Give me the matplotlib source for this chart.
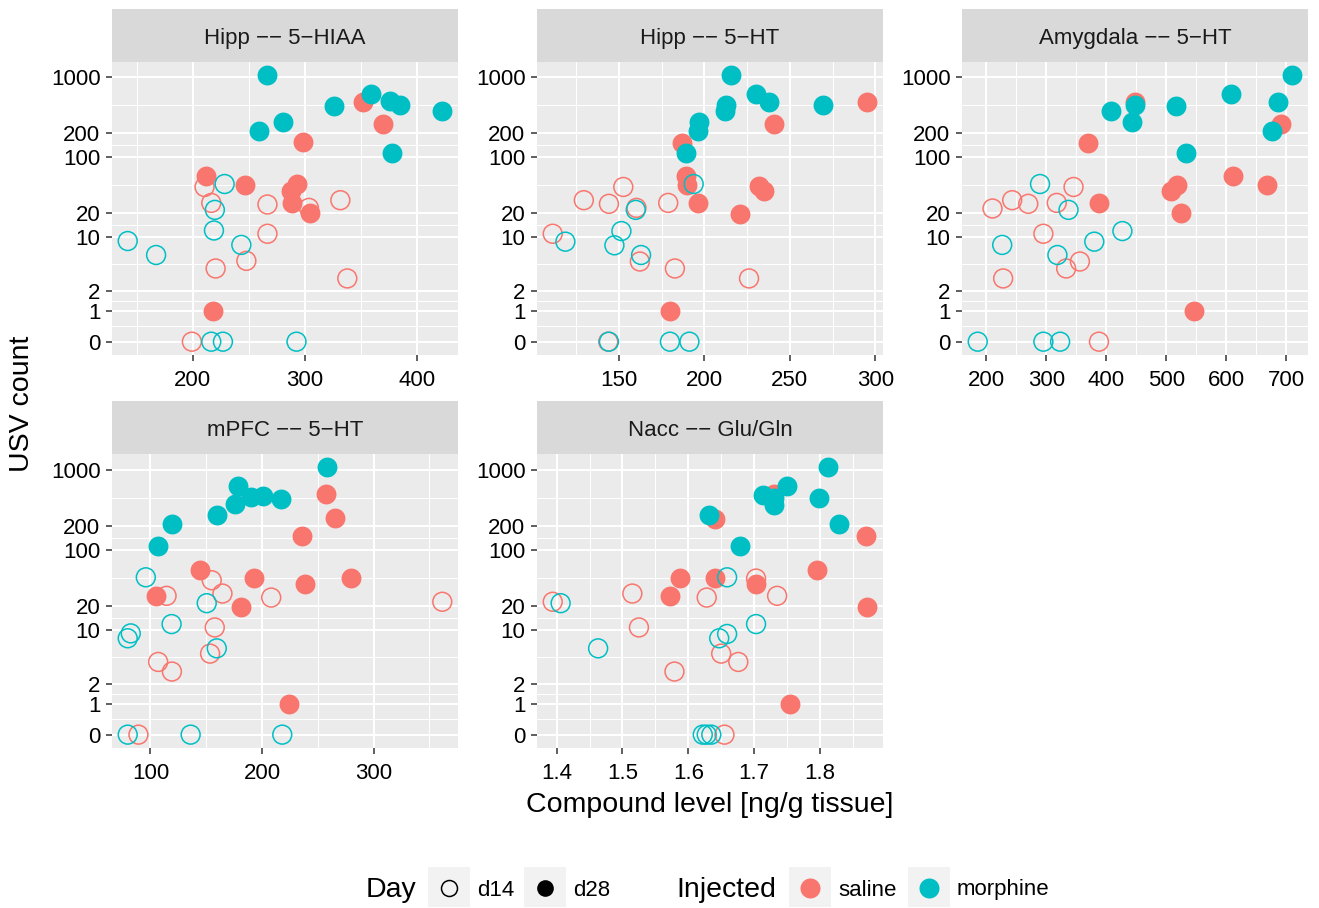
import numpy as np
import matplotlib
matplotlib.use("Agg")
import matplotlib.pyplot as plt
from matplotlib.ticker import AutoMinorLocator, FixedLocator, NullFormatter
from matplotlib.patches import Rectangle

plt.rcParams['font.family'] = ['Liberation Sans', 'DejaVu Sans']

# ---------------- data ----------------
panel_titles = ["Hipp \u2212\u2212 5\u2212HIAA", "Hipp \u2212\u2212 5\u2212HT",
                "Amygdala \u2212\u2212 5\u2212HT", "mPFC \u2212\u2212 5\u2212HT",
                "Nacc \u2212\u2212 Glu/Gln"]

# group labels, same order of animals in every panel
injected = (["morphine"] * 9 + ["saline"] * 10 + ["saline"] * 10 + ["morphine"] * 9)
day = (["d28"] * 9 + ["d28"] * 10 + ["d14"] * 10 + ["d14"] * 9)

hipp_5hiaa_x = [266.2, 358.9, 376.2, 384.3, 325.8, 422.4, 280.5, 258.7, 377.7,
                352.1, 369.1, 297.8, 211.6, 246.2, 292.7, 287.4, 288.8, 304.1, 217.9,
                210.4, 216.4, 266.5, 303.5, 331.5, 266.5, 220.3, 247.7, 337.7, 199.1,
                228.3, 219.6, 218.8, 141.9, 167.2, 243.2, 216.4, 226.8, 292.4]
hipp_5hiaa_usv = [1058, 626, 503, 457, 440, 382, 279, 213, 112,
                  493, 258, 154, 57.9, 44.8, 46.1, 37.7, 27.0, 20.3, 1,
                  42.7, 27.0, 25.8, 23.4, 29.2, 11.1, 4.04, 5.06, 3.0, 0,
                  46.5, 22.1, 12.2, 9.0, 6.0, 8.04, 0, 0, 0]

hipp_5ht_x = [215.3, 230.4, 237.8, 212.9, 212.0, 269.4, 196.9, 196.1, 189.0,
              295.3, 241.0, 186.9, 189.2, 189.8, 231.8, 235.1, 196.5, 220.8, 179.6,
              152.5, 129.4, 144.1, 178.8, 160.2, 111.2, 162.2, 182.7, 226.1, 143.7,
              193.7, 159.8, 151.4, 118.6, 147.3, 162.9, 144.1, 179.8, 191.2]
hipp_5ht_usv = [1058, 626, 493, 449, 378, 449, 279, 213, 112,
                493, 258, 153, 57.9, 44.8, 44.4, 37.7, 27.0, 19.9, 1,
                42.7, 29.2, 26.3, 27.0, 23.4, 11.1, 4.96, 4.04, 3.0, 0,
                46.5, 22.1, 12.0, 8.84, 7.95, 6.0, 0, 0, 0]

amyg_5ht_x = [710.1, 607.3, 686.6, 447.5, 516.2, 408.4, 443.6, 677.1, 533.5,
              447.5, 691.1, 368.7, 611.7, 668.2, 517.3, 508.4, 387.2, 524.6, 545.8,
              345.3, 243.0, 269.8, 317.3, 210.1, 295.0, 355.9, 333.0, 227.9, 387.7,
              289.4, 336.9, 426.8, 379.9, 226.3, 318.4, 185.5, 295.0, 322.9]
amyg_5ht_usv = [1058, 626, 493, 449, 440, 382, 279, 213, 112,
                493, 258, 153, 57.9, 44.8, 44.8, 37.7, 27.0, 20.3, 1,
                42.7, 29.2, 26.3, 27.0, 23.0, 11.1, 4.96, 4.04, 3.0, 0,
                46.5, 22.1, 12.0, 8.84, 8.04, 6.0, 0, 0, 0]

mpfc_5ht_x = [258.0, 178.6, 190.0, 200.4, 175.6, 217.2, 159.7, 118.9, 106.3,
              257.4, 265.2, 236.1, 144.7, 192.7, 279.3, 238.2, 105.1, 181.3, 223.8,
              154.9, 114.4, 164.5, 208.2, 361.5, 157.6, 153.4, 106.9, 119.2, 89.2,
              95.8, 150.4, 118.9, 82.3, 79.6, 159.4, 79.6, 136.0, 218.1]
mpfc_5ht_usv = [1068, 632, 453, 475, 374, 432, 274, 211, 111,
                493, 249, 149, 56.8, 45.2, 45.2, 38.1, 26.8, 19.6, 1,
                41.9, 26.8, 28.6, 25.5, 22.6, 10.8, 5.06, 3.96, 2.97, 0,
                45.6, 21.7, 11.9, 9.1, 7.9, 5.9, 0, 0, 0]

nacc_glugln_x = [1.813, 1.750, 1.714, 1.731, 1.731, 1.799, 1.829, 1.631, 1.679,
                 1.731, 1.870, 1.641, 1.796, 1.587, 1.640, 1.703, 1.572, 1.872, 1.755,
                 1.703, 1.515, 1.628, 1.735, 1.394, 1.525, 1.650, 1.676, 1.579, 1.655,
                 1.659, 1.406, 1.703, 1.659, 1.647, 1.463, 1.622, 1.628, 1.635]
nacc_glugln_usv = [1068, 632, 484, 449, 364, 440, 211, 274, 111,
                   493, 149, 244, 56.8, 45.2, 45.2, 38.1, 26.8, 19.6, 1,
                   44, 28.6, 25.5, 26.8, 22.6, 10.8, 5.06, 3.96, 2.97, 0,
                   45.6, 21.7, 11.9, 8.95, 7.9, 5.9, 0, 0, 0]

panel_x = [hipp_5hiaa_x, hipp_5ht_x, amyg_5ht_x, mpfc_5ht_x, nacc_glugln_x]
panel_y = [hipp_5hiaa_usv, hipp_5ht_usv, amyg_5ht_usv, mpfc_5ht_usv, nacc_glugln_usv]

x_ticks = [[200, 300, 400], [150, 200, 250, 300], [200, 300, 400, 500, 600, 700],
           [100, 200, 300], [1.4, 1.5, 1.6, 1.7, 1.8]]
x_ticklabels = [["200", "300", "400"], ["150", "200", "250", "300"],
                ["200", "300", "400", "500", "600", "700"],
                ["100", "200", "300"], ["1.4", "1.5", "1.6", "1.7", "1.8"]]
y_ticks = [0, 1, 2, 10, 20, 100, 200, 1000]

inj_levels = ["saline", "morphine"]
inj_colors = {"saline": "#F8766D", "morphine": "#00BFC4"}
day_levels = ["d14", "d28"]

# ---------------- layout ----------------
W, H = 1319, 908
fig = plt.figure(figsize=(W / 100, H / 100), dpi=100)
fig.patch.set_facecolor("white")

col_left = [112, 537, 962]
pw = 346
rows = [(9, 62, 355), (401, 454, 748)]  # strip top, panel top, panel bottom

TICK_FS = 16
TITLE_FS = 20.5


def fx(px):
    return px / W


def fy(py):
    return 1 - py / H


for i in range(5):
    r, c = divmod(i, 3)
    st, pt, pb = rows[r]
    left = col_left[c]
    ax = fig.add_axes([fx(left), fy(pb), fx(pw), (pb - pt) / H])
    sax = fig.add_axes([fx(left), fy(pt), fx(pw), (pt - st) / H])
    sax.set_facecolor("#D9D9D9")
    sax.set_xticks([])
    sax.set_yticks([])
    for s in sax.spines.values():
        s.set_visible(False)
    sax.text(0.5, 0.45, panel_titles[i], ha="center", va="center",
             fontsize=TICK_FS, color="#1A1A1A", transform=sax.transAxes)

    ax.set_facecolor("#EBEBEB")
    for s in ax.spines.values():
        s.set_visible(False)
    ax.set_yscale("function", functions=(np.arcsinh, np.sinh))

    xs = np.array(panel_x[i], dtype=float)
    ys = np.array(panel_y[i], dtype=float)
    inj = np.array(injected)
    dd = np.array(day)

    for g in inj_levels:
        for d in day_levels:
            m = (inj == g) & (dd == d)
            if d == "d28":
                ax.scatter(xs[m], ys[m], s=205, color=inj_colors[g], linewidths=0,
                           zorder=3)
            else:
                ax.scatter(xs[m], ys[m], s=185, facecolors="none",
                           edgecolors=inj_colors[g], linewidths=1.1, zorder=3)

    # limits like ggplot (5% expansion)
    xr = xs.max() - xs.min()
    ax.set_xlim(xs.min() - 0.05 * xr, xs.max() + 0.05 * xr)
    tmax = np.arcsinh(ys.max())
    ax.set_ylim(np.sinh(-0.05 * tmax), np.sinh(1.05 * tmax))

    ax.set_xticks(x_ticks[i])
    ax.set_xticklabels(x_ticklabels[i])
    ax.xaxis.set_minor_locator(AutoMinorLocator(2))
    ax.set_yticks(y_ticks)
    ax.set_yticklabels([str(v) for v in y_ticks])
    ty = np.arcsinh(np.array(y_ticks, dtype=float))
    ax.yaxis.set_minor_locator(FixedLocator(np.sinh((ty[:-1] + ty[1:]) / 2)))
    ax.yaxis.set_minor_formatter(NullFormatter())

    ax.grid(which="major", color="white", linewidth=1.5, zorder=1)
    ax.grid(which="minor", color="white", linewidth=0.75, zorder=1)
    ax.set_axisbelow(True)
    ax.tick_params(which="major", length=4.3, width=1.1, color="#333333",
                   labelsize=TICK_FS, labelcolor="black")
    ax.tick_params(axis="y", which="major", pad=4)
    ax.tick_params(axis="x", which="major", pad=6.5)
    ax.tick_params(which="minor", length=0)

# axis titles
fig.text(fx(22), fy(404), "USV count", rotation=90, ha="center", va="center",
         fontsize=TITLE_FS, color="black")
fig.text(fx(710), fy(805), "Compound level [ng/g tissue]", ha="center",
         va="center", fontsize=TITLE_FS, color="black")

# ---------------- legend ----------------
lax = fig.add_axes([0, 0, 1, 1])
lax.set_xlim(0, W)
lax.set_ylim(H, 0)
lax.axis("off")
lax.patch.set_alpha(0)

ly = 887
lax.text(366, ly + 3, "Day", ha="left", va="center", fontsize=TITLE_FS)
day_boxes = [428, 524]
for bx, d, lab in zip(day_boxes, day_levels, ["d14", "d28"]):
    lax.add_patch(Rectangle((bx, 867), 42, 40, facecolor="#F2F2F2", edgecolor="none"))
    if d == "d14":
        lax.plot([bx + 21], [ly + 1], marker="o", markersize=11.5, markerfacecolor="none",
                 markeredgecolor="black", markeredgewidth=1.1, linestyle="none")
    else:
        lax.plot([bx + 21], [ly + 1], marker="o", markersize=12, markerfacecolor="black",
                 markeredgewidth=0, linestyle="none")
    lax.text(bx + 49, ly + 3, lab, ha="left", va="center", fontsize=TICK_FS)

lax.text(676, ly + 3, "Injected", ha="left", va="center", fontsize=TITLE_FS)
inj_boxes = [789, 908]
for bx, g in zip(inj_boxes, inj_levels):
    lax.add_patch(Rectangle((bx, 867), 42, 40, facecolor="#F2F2F2", edgecolor="none"))
    lax.plot([bx + 21], [ly + 1], marker="o", markersize=14.4, markerfacecolor=inj_colors[g],
             markeredgewidth=0, linestyle="none")
    lax.text(bx + 49, ly + 3, g, ha="left", va="center", fontsize=TICK_FS)

fig.savefig("out.png", dpi=100)
